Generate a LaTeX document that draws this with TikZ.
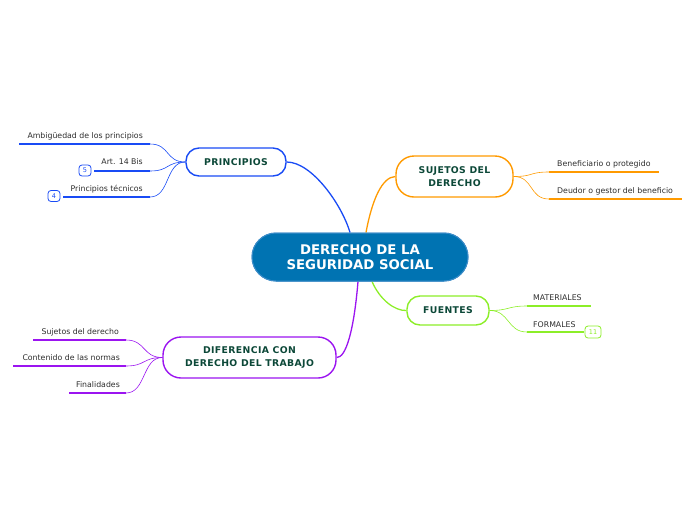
\documentclass[tikz,border=0pt]{standalone}
\usepackage{fontspec}
\setmainfont{DejaVu Sans}
\usetikzlibrary{calc}
\definecolor{cblue}{RGB}{25,75,245}
\definecolor{corange}{RGB}{255,154,0}
\definecolor{cgreen}{RGB}{140,238,40}
\definecolor{cpurple}{RGB}{155,20,240}
\definecolor{cfill}{RGB}{0,115,178}
\definecolor{cedge}{RGB}{60,140,200}
\definecolor{ctopic}{RGB}{12,72,56}
\definecolor{cleaf}{RGB}{45,45,45}
\tikzset{
  central/.style={draw=cedge, line width=1pt, fill=cfill, text=white, rounded corners=24pt,
    minimum width=216pt, minimum height=48pt, align=center, inner sep=0pt,
    font=\fontsize{13.3}{15.5}\selectfont\bfseries},
  topic/.style={fill=white, line width=1.4pt, rounded corners=13pt, align=center, inner sep=0pt,
    text=ctopic, font=\fontsize{9.3}{13}\selectfont\bfseries\addfontfeatures{LetterSpace=4}},
  leaf/.style={text=cleaf, inner sep=0pt, font=\fontsize{7.8}{9}\selectfont},
  under/.style={line width=2.4pt},
  twig/.style={line width=0.6pt},
  branch/.style={line width=1.3pt},
  badge/.style={draw=cblue, line width=0.8pt, rounded corners=3pt, fill=white, inner sep=0pt,
    minimum width=12pt, minimum height=11pt, text=cblue, font=\fontsize{6.5}{6.5}\selectfont}
}
\begin{document}
\begin{tikzpicture}[x=1pt,y=-1pt]
\useasboundingbox (0,0) rectangle (696,520);

% main topics
\node[central] (c) at (360,257) {DERECHO DE LA\\SEGURIDAD SOCIAL};
\node[topic, draw=cblue, minimum width=100pt, minimum height=28pt] (p) at (236,162) {PRINCIPIOS};
\node[topic, draw=corange, minimum width=117pt, minimum height=41pt, rounded corners=18pt] (s) at (454.5,176.5) {SUJETOS DEL\\DERECHO};
\node[topic, draw=cgreen, minimum width=82pt, minimum height=29pt] (f) at (448,310.5) {FUENTES};
\node[topic, draw=cpurple, minimum width=173pt, minimum height=41pt, rounded corners=18pt] (d) at (249.5,357.5) {DIFERENCIA CON\\DERECHO DEL TRABAJO};

% main branches
\draw[branch, cblue] ($(c.north)+(-10,0)$) .. controls (342,205) and (312,162) .. (p.east);
\draw[branch, corange] ($(c.north)+(6,0)$) .. controls (372,200) and (382,177) .. (s.west);
\draw[branch, cgreen] ($(c.south)+(12,0)$) .. controls (380,300) and (395,311) .. (f.west);
\draw[branch, cpurple] ($(c.south)+(-2,0)$) .. controls (354,330) and (346,358) .. (d.east);
\node[central] at (c) {DERECHO DE LA\\SEGURIDAD SOCIAL};

% PRINCIPIOS leaves
\node[leaf, anchor=base east] (p1) at (143,138) {Ambigüedad de los principios};
\coordinate (p1a) at (19,144); \coordinate (p1b) at (150,144);
\draw[under, cblue] (p1a) -- (p1b);
\draw[twig, cblue] (p1b) .. controls +(20,0) and +(-20,0) .. (p.west);

\node[leaf, anchor=base east] (p2) at (143,164) {Art. 14 Bis};
\coordinate (p2a) at (94,171); \coordinate (p2b) at (150,171);
\draw[under, cblue] (p2a) -- (p2b);
\draw[twig, cblue] (p2b) .. controls +(20,0) and +(-20,0) .. (p.west);
\node[badge] (b5) at (85,170.5) {5};

\node[leaf, anchor=base east] (p3) at (143,191) {Principios técnicos};
\coordinate (p3a) at (63,197); \coordinate (p3b) at (150,197);
\draw[under, cblue] (p3a) -- (p3b);
\draw[twig, cblue] (p3b) .. controls +(20,0) and +(-20,0) .. (p.west);
\node[badge] (b4) at (54,196) {4};

% SUJETOS leaves
\node[leaf, anchor=base west] (s1) at (557,166) {Beneficiario o protegido};
\coordinate (s1a) at (549,172); \coordinate (s1b) at (659,172);
\draw[under, corange] (s1a) -- (s1b);
\draw[twig, corange] (s.east) .. controls +(20,0) and +(-20,0) .. (s1a);

\node[leaf, anchor=base west] (s2) at (557,193) {Deudor o gestor del beneficio};
\coordinate (s2a) at (549,199); \coordinate (s2b) at (682,199);
\draw[under, corange] (s2a) -- (s2b);
\draw[twig, corange] (s.east) .. controls +(20,0) and +(-20,0) .. (s2a);

% FUENTES leaves
\node[leaf, anchor=base west] (f1) at (533,300) {MATERIALES};
\coordinate (f1a) at (527,306); \coordinate (f1b) at (591,306);
\draw[under, cgreen] (f1a) -- (f1b);
\draw[twig, cgreen] (f.east) .. controls +(20,0) and +(-20,0) .. (f1a);

\node[leaf, anchor=base west] (f2) at (533,327) {FORMALES};
\coordinate (f2a) at (527,332); \coordinate (f2b) at (584,332);
\draw[under, cgreen] (f2a) -- (f2b);
\draw[twig, cgreen] (f.east) .. controls +(20,0) and +(-20,0) .. (f2a);
\node[badge, draw=cgreen, text=cgreen, minimum width=16pt, minimum height=12pt] (b11) at (593,332) {11};

% DIFERENCIA leaves
\node[leaf, anchor=base east] (d1) at (119,334) {Sujetos del derecho};
\coordinate (d1a) at (33,340); \coordinate (d1b) at (126,340);
\draw[under, cpurple] (d1a) -- (d1b);
\draw[twig, cpurple] (d1b) .. controls +(20,0) and +(-20,0) .. (d.west);

\node[leaf, anchor=base east] (d2) at (120,360) {Contenido de las normas};
\coordinate (d2a) at (13,366); \coordinate (d2b) at (126,366);
\draw[under, cpurple] (d2a) -- (d2b);
\draw[twig, cpurple] (d2b) .. controls +(20,0) and +(-20,0) .. (d.west);

\node[leaf, anchor=base east] (d3) at (120,387) {Finalidades};
\coordinate (d3a) at (69,393); \coordinate (d3b) at (126,393);
\draw[under, cpurple] (d3a) -- (d3b);
\draw[twig, cpurple] (d3b) .. controls +(20,0) and +(-20,0) .. (d.west);
\end{tikzpicture}
\end{document}
